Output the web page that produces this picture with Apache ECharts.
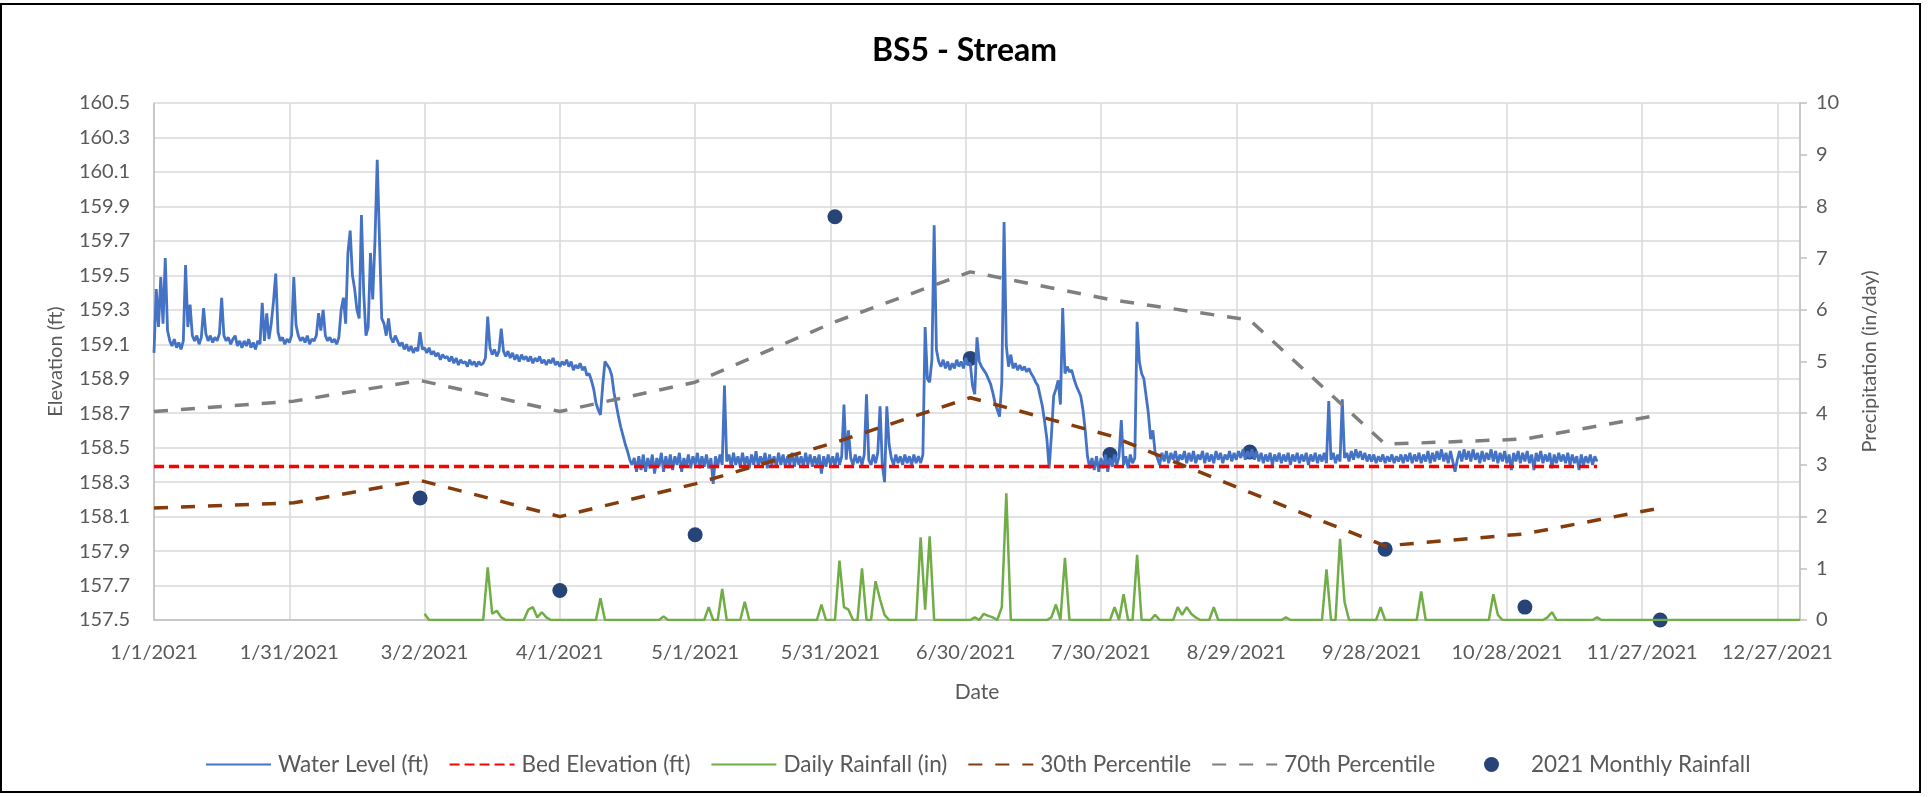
<!DOCTYPE html>
<html>
<head>
<meta charset="utf-8">
<title>BS5 - Stream</title>
<script src="https://cdn.jsdelivr.net/npm/echarts@6/dist/echarts.min.js"></script>
<style>
html, body { margin: 0; padding: 0; background: #fff; }
#main { width: 1929px; height: 797px; }
</style>
</head>
<body>
<div id="main"></div>
<script>
// all x values are days counted from 1/1/2021
// water level logger readings, every half day from 1/1
var levelStartDay = 0;
var levelStepDays = 0.5;
var waterLevel = [
    159.05, 159.42, 159.20, 159.49, 159.22, 159.60, 159.18, 159.12, 159.09, 159.13,
    159.08, 159.11, 159.07, 159.12, 159.56, 159.20, 159.33, 159.15, 159.12, 159.15,
    159.10, 159.14, 159.31, 159.16, 159.12, 159.15, 159.11, 159.14, 159.12, 159.16,
    159.37, 159.15, 159.12, 159.14, 159.10, 159.13, 159.15, 159.09, 159.12, 159.08,
    159.12, 159.09, 159.13, 159.08, 159.11, 159.07, 159.12, 159.10, 159.34, 159.12,
    159.28, 159.13, 159.22, 159.35, 159.51, 159.17, 159.12, 159.14, 159.10, 159.13,
    159.11, 159.15, 159.49, 159.21, 159.15, 159.12, 159.14, 159.11, 159.15, 159.10,
    159.13, 159.12, 159.15, 159.28, 159.18, 159.30, 159.15, 159.12, 159.14, 159.11,
    159.13, 159.10, 159.14, 159.30, 159.37, 159.22, 159.63, 159.76, 159.50, 159.42,
    159.30, 159.25, 159.85, 159.40, 159.15, 159.20, 159.63, 159.36, 159.70, 160.17,
    159.71, 159.25, 159.22, 159.15, 159.25, 159.14, 159.11, 159.15, 159.12, 159.09,
    159.11, 159.07, 159.10, 159.06, 159.09, 159.05, 159.08, 159.06, 159.17, 159.07,
    159.08, 159.05, 159.08, 159.04, 159.06, 159.03, 159.05, 159.01, 159.04, 159.02,
    159.03, 159.00, 159.03, 158.99, 159.02, 158.98, 159.01, 158.99, 159.00, 158.97,
    159.01, 158.98, 159.00, 158.97, 159.00, 158.98, 158.99, 159.02, 159.26, 159.08,
    159.04, 159.07, 159.03, 159.06, 159.19, 159.06, 159.03, 159.06, 159.02, 159.05,
    159.01, 159.04, 159.00, 159.04, 159.01, 159.03, 159.00, 159.03, 158.99, 159.02,
    159.00, 159.03, 158.99, 159.01, 158.98, 159.01, 158.99, 159.02, 158.98, 159.00,
    158.97, 159.00, 158.98, 159.01, 158.97, 159.00, 158.95, 158.98, 158.96, 158.99,
    158.95, 158.97, 158.92, 158.93, 158.89, 158.84, 158.76, 158.72, 158.69, 158.86,
    159.00, 158.98, 158.96, 158.92, 158.82, 158.75, 158.68, 158.62, 158.57, 158.52,
    158.48, 158.43, 158.40, 158.44, 158.36, 158.45, 158.37, 158.46, 158.36, 158.44,
    158.38, 158.46, 158.35, 158.44, 158.39, 158.47, 158.36, 158.45, 158.38, 158.46,
    158.37, 158.45, 158.40, 158.47, 158.36, 158.44, 158.39, 158.46, 158.38, 158.45,
    158.40, 158.47, 158.38, 158.45, 158.39, 158.46, 158.38, 158.44, 158.29, 158.45,
    158.39, 158.46, 158.40, 158.86, 158.42, 158.46, 158.39, 158.47, 158.40, 158.45,
    158.39, 158.47, 158.40, 158.45, 158.38, 158.46, 158.40, 158.48, 158.39, 158.45,
    158.40, 158.47, 158.38, 158.46, 158.40, 158.45, 158.39, 158.47, 158.40, 158.46,
    158.39, 158.45, 158.40, 158.47, 158.39, 158.46, 158.40, 158.45, 158.39, 158.47,
    158.40, 158.46, 158.39, 158.45, 158.40, 158.46, 158.35, 158.45, 158.39, 158.46,
    158.40, 158.45, 158.39, 158.47, 158.40, 158.45, 158.75, 158.43, 158.60, 158.44,
    158.40, 158.46, 158.41, 158.45, 158.40, 158.46, 158.81, 158.43, 158.40, 158.46,
    158.41, 158.47, 158.74, 158.40, 158.30, 158.74, 158.52, 158.44, 158.40, 158.46,
    158.41, 158.45, 158.40, 158.46, 158.41, 158.45, 158.40, 158.46, 158.41, 158.45,
    158.41, 158.46, 159.20, 158.90, 158.88, 159.01, 159.79, 159.07, 159.00, 158.97,
    159.01, 158.96, 159.00, 158.95, 158.99, 158.96, 159.01, 158.97, 159.00, 158.96,
    159.02, 158.98, 158.99, 158.86, 158.81, 159.14, 159.00, 158.97, 158.95, 158.93,
    158.90, 158.87, 158.82, 158.76, 158.72, 158.68, 158.88, 159.81, 159.09, 158.97,
    159.04, 158.96, 158.99, 158.95, 158.98, 158.95, 158.97, 158.94, 158.96, 158.93,
    158.91, 158.88, 158.86, 158.80, 158.74, 158.65, 158.55, 158.38, 158.57, 158.80,
    158.84, 158.89, 158.75, 159.31, 158.93, 158.97, 158.94, 158.95, 158.90, 158.86,
    158.83, 158.80, 158.72, 158.60, 158.45, 158.38, 158.44, 158.37, 158.45, 158.36,
    158.44, 158.38, 158.46, 158.36, 158.44, 158.39, 158.46, 158.40, 158.45, 158.66,
    158.40, 158.45, 158.38, 158.46, 158.41, 158.44, 159.23, 159.00, 158.93, 158.90,
    158.80, 158.70, 158.55, 158.60, 158.47, 158.44, 158.40, 158.47, 158.42, 158.48,
    158.41, 158.47, 158.43, 158.48, 158.41, 158.46, 158.43, 158.48, 158.41, 158.47,
    158.42, 158.48, 158.41, 158.46, 158.43, 158.48, 158.41, 158.47, 158.42, 158.46,
    158.41, 158.48, 158.43, 158.47, 158.41, 158.46, 158.43, 158.48, 158.42, 158.47,
    158.43, 158.48, 158.44, 158.49, 158.43, 158.48, 158.44, 158.49, 158.43, 158.48,
    158.42, 158.47, 158.41, 158.46, 158.42, 158.47, 158.40, 158.46, 158.42, 158.47,
    158.41, 158.46, 158.42, 158.47, 158.40, 158.46, 158.42, 158.47, 158.41, 158.46,
    158.42, 158.47, 158.40, 158.46, 158.42, 158.47, 158.41, 158.46, 158.42, 158.47,
    158.41, 158.77, 158.43, 158.47, 158.41, 158.46, 158.42, 158.78, 158.44, 158.47,
    158.42, 158.48, 158.43, 158.49, 158.44, 158.48, 158.43, 158.47, 158.42, 158.46,
    158.42, 158.46, 158.41, 158.45, 158.42, 158.46, 158.41, 158.45, 158.42, 158.46,
    158.41, 158.45, 158.42, 158.46, 158.41, 158.46, 158.42, 158.47, 158.41, 158.46,
    158.42, 158.47, 158.41, 158.46, 158.42, 158.48, 158.41, 158.47, 158.42, 158.48,
    158.43, 158.49, 158.42, 158.47, 158.41, 158.48, 158.42, 158.36, 158.43, 158.48,
    158.42, 158.49, 158.43, 158.48, 158.42, 158.49, 158.43, 158.47, 158.41, 158.48,
    158.42, 158.47, 158.43, 158.49, 158.42, 158.48, 158.41, 158.47, 158.42, 158.48,
    158.41, 158.46, 158.37, 158.47, 158.42, 158.48, 158.41, 158.47, 158.42, 158.48,
    158.41, 158.46, 158.37, 158.47, 158.42, 158.48, 158.41, 158.46, 158.42, 158.47,
    158.38, 158.46, 158.41, 158.47, 158.42, 158.46, 158.41, 158.47, 158.40, 158.46,
    158.41, 158.45, 158.37, 158.46, 158.40, 158.45, 158.41, 158.46, 158.40, 158.45,
    158.42
];

var bedDays = [0, 320];
var bedElevation = [158.39, 158.39];

// daily rainfall record runs 3/2 .. 1/1; days not listed had no rain
var rainStartDay = 60;
var rainEndDay = 365;
var rainDays = [60, 74, 75, 76, 77, 83, 84, 85, 86, 87, 99, 113, 123, 126, 131,
    148, 152, 153, 154, 157, 160, 161, 162, 170, 171, 172, 182, 184, 185, 186,
    188, 189, 199, 200, 202, 213, 215, 218, 222, 227, 228, 229, 230, 231, 235,
    251, 260, 263, 264, 272, 281, 297, 298, 309, 310, 320];
var rainInches = [0.12, 1.02, 0.12, 0.18, 0.05, 0.2, 0.25, 0.05, 0.15, 0.05, 0.42, 0.07, 0.25, 0.6, 0.35,
    0.3, 1.15, 0.25, 0.2, 1.0, 0.75, 0.4, 0.1, 1.6, 0.2, 1.62, 0.05, 0.12, 0.08, 0.05,
    0.25, 2.45, 0.05, 0.3, 1.2, 0.25, 0.5, 1.26, 0.1, 0.25, 0.1, 0.25, 0.12, 0.05, 0.25,
    0.05, 0.98, 1.57, 0.35, 0.25, 0.55, 0.5, 0.1, 0.05, 0.15, 0.05];

var pctDays = [0, 31, 59, 90, 120, 151, 181, 212, 243, 273, 304, 334];
var pct30 = [158.15, 158.18, 158.31, 158.10, 158.29, 158.53, 158.79, 158.57, 158.24, 157.93, 158.00, 158.15];
var pct70 = [158.71, 158.77, 158.89, 158.71, 158.88, 159.23, 159.52, 159.36, 159.24, 158.52, 158.55, 158.69];

var monthlyDays = [59, 90, 120, 151, 181, 212, 243, 273, 304, 334];
var monthlyRain = [2.36, 0.57, 1.65, 7.8, 5.06, 3.2, 3.25, 1.37, 0.25, 0.0];

var elevTicks = { min: 157.5, max: 160.5, step: 0.2 };
var rainTicks = { min: 0, max: 10, step: 1 };
var dayTicks = { min: 0, max: 365, step: 30 };

function dayLabel(d) {
    var dt = new Date(2021, 0, 1 + d);
    return (dt.getMonth() + 1) + '/' + dt.getDate() + '/' + dt.getFullYear();
}

function pairs(xs, ys) {
    var out = [];
    for (var i = 0; i < ys.length; i++) out.push([xs[i], ys[i]]);
    return out;
}

var levelData = [];
for (var i = 0; i < waterLevel.length; i++) levelData.push([levelStartDay + i * levelStepDays, waterLevel[i]]);

var rainData = [];
for (var d = rainStartDay; d <= rainEndDay; d++) {
    var k = rainDays.indexOf(d);
    rainData.push([d, k >= 0 ? rainInches[k] : 0]);
}

var font = 'Lato, "Open Sans", sans-serif';
var grey = '#595959';
var noMarker = { opacity: 0 };
var legendText = { fontFamily: font, fontSize: 22.5, color: grey, padding: [0, 0, 0, 2] };

var myChart = echarts.init(document.getElementById('main'));
option = {
    animation: false,
    backgroundColor: '#fff',
    textStyle: { fontFamily: font },
    title: {
        text: 'BS5 - Stream',
        left: 'center',
        top: 30,
        textStyle: { fontFamily: font, fontSize: 32, fontWeight: 'bold', color: '#000' }
    },
    graphic: [{
        type: 'rect',
        shape: { x: 1, y: 4, width: 1919, height: 788 },
        style: { fill: 'none', stroke: '#000', lineWidth: 2 },
        silent: true
    }],
    legend: [{
        left: 200,
        top: 748,
        itemWidth: 65,
        itemHeight: 15,
        itemGap: 20,
        textStyle: legendText,
        data: [
            { name: 'Water Level (ft)', itemStyle: noMarker },
            { name: 'Bed Elevation (ft)', itemStyle: noMarker },
            { name: 'Daily Rainfall (in)', itemStyle: noMarker },
            { name: '30th Percentile', itemStyle: noMarker },
            { name: '70th Percentile', itemStyle: noMarker }
        ]
    }, {
        left: 1479,
        top: 748,
        itemWidth: 65,
        itemHeight: 15,
        textStyle: legendText,
        data: ['2021 Monthly Rainfall']
    }],
    grid: { left: 154, right: 129, top: 103, bottom: 177 },
    xAxis: {
        type: 'value',
        min: dayTicks.min,
        max: dayTicks.max,
        interval: dayTicks.step,
        name: 'Date',
        nameLocation: 'middle',
        nameGap: 62,
        nameTextStyle: { fontFamily: font, fontSize: 21, color: grey },
        axisLine: { onZero: false, lineStyle: { color: '#BFBFBF', width: 1.5 } },
        axisTick: { show: false },
        axisLabel: { formatter: dayLabel, showMaxLabel: false, margin: 23, fontFamily: font, fontSize: 20, color: grey },
        splitLine: { show: true, lineStyle: { color: '#D9D9D9', width: 1.5 } }
    },
    yAxis: [{
        type: 'value',
        min: elevTicks.min,
        max: elevTicks.max,
        interval: elevTicks.step,
        name: 'Elevation (ft)',
        nameLocation: 'middle',
        nameGap: 88,
        nameTextStyle: { fontFamily: font, fontSize: 20, color: grey },
        axisLine: { show: true, lineStyle: { color: '#BFBFBF', width: 1.5 } },
        axisTick: { show: false },
        axisLabel: { formatter: function (v) { return v.toFixed(1); }, margin: 24, fontFamily: font, fontSize: 20, color: grey },
        splitLine: { show: true, lineStyle: { color: '#D9D9D9', width: 1.5 } }
    }, {
        type: 'value',
        position: 'right',
        min: rainTicks.min,
        max: rainTicks.max,
        interval: rainTicks.step,
        name: 'Precipitation (in/day)',
        nameLocation: 'middle',
        nameGap: 60,
        nameTextStyle: { fontFamily: font, fontSize: 20, color: grey },
        axisLine: { show: true, lineStyle: { color: '#BFBFBF', width: 1.5 } },
        axisTick: { show: true, length: 7, lineStyle: { color: '#BFBFBF', width: 1.5 } },
        axisLabel: { margin: 16, fontFamily: font, fontSize: 20, color: grey },
        splitLine: { show: false }
    }],
    series: [{
        name: 'Water Level (ft)',
        type: 'line',
        yAxisIndex: 0,
        symbol: 'none',
        data: levelData,
        itemStyle: { color: '#4472C4' },
        lineStyle: { color: '#4472C4', width: 2.8 }
    }, {
        name: 'Bed Elevation (ft)',
        type: 'line',
        yAxisIndex: 0,
        symbol: 'none',
        data: pairs(bedDays, bedElevation),
        itemStyle: { color: '#FF0000' },
        lineStyle: { color: '#FF0000', width: 3.5, type: [10, 5] }
    }, {
        name: 'Daily Rainfall (in)',
        type: 'line',
        yAxisIndex: 1,
        symbol: 'none',
        data: rainData,
        itemStyle: { color: '#70AD47' },
        lineStyle: { color: '#70AD47', width: 2.5 }
    }, {
        name: '30th Percentile',
        type: 'line',
        yAxisIndex: 0,
        symbol: 'none',
        data: pairs(pctDays, pct30),
        itemStyle: { color: '#843C0C' },
        lineStyle: { color: '#843C0C', width: 3.5, type: [14, 13] }
    }, {
        name: '70th Percentile',
        type: 'line',
        yAxisIndex: 0,
        symbol: 'none',
        data: pairs(pctDays, pct70),
        itemStyle: { color: '#7F7F7F' },
        lineStyle: { color: '#7F7F7F', width: 3.5, type: [14, 13] }
    }, {
        name: '2021 Monthly Rainfall',
        type: 'scatter',
        yAxisIndex: 1,
        symbol: 'circle',
        symbolSize: 15,
        data: pairs(monthlyDays, monthlyRain),
        itemStyle: { color: '#264478', opacity: 1 }
    }]
};

myChart.setOption(option);
</script>
</body>
</html>
